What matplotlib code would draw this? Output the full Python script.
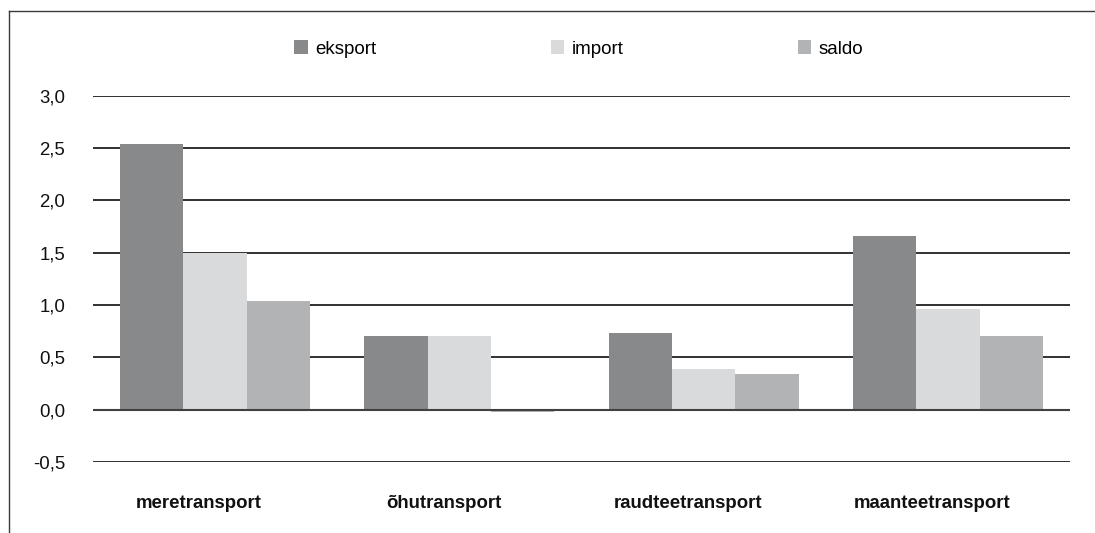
import matplotlib
matplotlib.use("Agg")
import matplotlib.pyplot as plt
from matplotlib.lines import Line2D
import numpy as np

categories = ["meretransport", "õhutransport", "raudteetransport", "maanteetransport"]
series_names = ["eksport", "import", "saldo"]
eksport = [2.54, 0.70, 0.73, 1.66]
import_ = [1.50, 0.70, 0.39, 0.96]
saldo = [1.04, -0.025, 0.34, 0.70]
yticks = [-0.5, 0.0, 0.5, 1.0, 1.5, 2.0, 2.5, 3.0]
ytick_labels = ["-0,5", "0,0", "0,5", "1,0", "1,5", "2,0", "2,5", "3,0"]
colors = ["#88898b", "#d9dadc", "#b2b3b5"]

plt.rcParams['font.family'] = ['Liberation Sans', 'DejaVu Sans']

W, H = 1095, 533
fig = plt.figure(figsize=(W / 100, H / 100), dpi=100)
ax = fig.add_axes([93 / W, 1 - 462 / H, (1070 - 93) / W, (462 - 95.5) / H])

x = np.arange(len(categories))
w = 0.259
handles = []
for i, (vals, name, c) in enumerate(zip([eksport, import_, saldo], series_names, colors)):
    b = ax.bar(x + (i - 1) * w, vals, width=w, color=c, label=name, zorder=3, linewidth=0)
    handles.append(b)

for yv in yticks:
    if yv == 0:
        ax.axhline(yv, color="#404040", lw=1.5, zorder=4)
    else:
        ax.axhline(yv, color="#0d0d0d", lw=1.2, zorder=1)

ax.set_xlim(-0.5, 3.5)
ax.set_ylim(-0.5, 3.0)
ax.set_yticks(yticks)
ax.set_yticklabels(ytick_labels, fontsize=13.4)
ax.set_xticks(x - 0.065)
ax.set_xticklabels(categories, fontsize=13.4, fontweight="bold")
ax.tick_params(axis="y", length=0, pad=20, colors="#111111")
ax.tick_params(axis="x", length=0, pad=24, colors="#111111")
for s in ax.spines.values():
    s.set_visible(False)
ax.set_facecolor("none")

fs = 13.5
leg = fig.legend(handles=handles, labels=series_names, loc="center left",
                 bbox_to_anchor=(294 / W, 1 - 49 / H), ncol=3, frameon=False,
                 fontsize=fs, handlelength=0.73, handleheight=0.73,
                 handletextpad=0.39, columnspacing=9.3, borderpad=0,
                 borderaxespad=0)

# figure frame lines (top and left)
fig.add_artist(Line2D([9 / W, 1.0], [1 - 11 / H, 1 - 11 / H], color="#3a3a3a", lw=1.0,
                      transform=fig.transFigure))
fig.add_artist(Line2D([9 / W, 9 / W], [1 - 11 / H, 0.0], color="#3a3a3a", lw=1.0,
                      transform=fig.transFigure))

fig.savefig("out.png", dpi=100)
